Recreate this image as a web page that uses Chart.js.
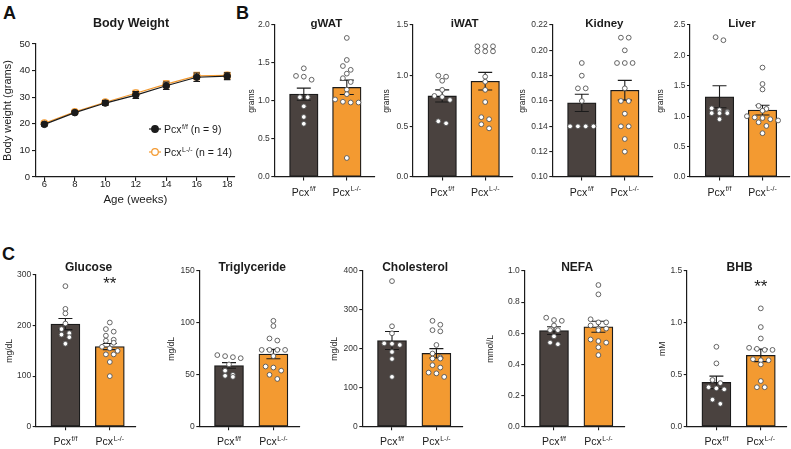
<!DOCTYPE html>
<html>
<head>
<meta charset="utf-8">
<script src="https://cdn.jsdelivr.net/npm/chart.js@4.4.1/dist/chart.umd.min.js"></script>
<style>
    body { margin: 0; background: #fff; }
    #page { position: relative; width: 791px; height: 449px; overflow: hidden; background: #fff; }
    #page canvas { position: absolute; }
    .letter { position: absolute; font: bold 18px/18px "Liberation Sans", Arial, sans-serif; color: #111; }
</style>
</head>
<body>
<div id="page">
    <div class="letter" style="left:3px;top:4px">A</div>
    <div class="letter" style="left:236px;top:4px">B</div>
    <div class="letter" style="left:2px;top:245px">C</div>
</div>
<script>
// ---- data ----
// A: body weight
const ageWeeks = [6, 8, 10, 12, 14, 16, 18]
const weightFlox = [19.8, 24.2, 27.8, 30.8, 34.3, 37.5, 37.9]
const weightFloxSem = [0.6, 0.6, 0.9, 1.3, 1.4, 1.6, 1.3]
const weightKo = [20.2, 24.5, 28.1, 31.5, 34.9, 38.0, 38.2]
const weightKoSem = [0.5, 0.6, 0.8, 1.1, 1.3, 1.4, 1.2]
const weightTicksX = [6, 8, 10, 12, 14, 16, 18]
const weightTicksY = [0, 10, 20, 30, 40, 50]

const genotypeBase = "Pcx"
const genotypeSup = ["f/f", "L-/-"]
const groupSizes = [9, 14]

// B: tissue weights (grams)
const gwatFlox = [1.43, 1.33, 1.32, 1.28, 1.05, 1.05, 0.93, 0.79, 0.70]
const gwatKo = [1.83, 1.54, 1.46, 1.41, 1.36, 1.30, 1.25, 1.15, 1.09, 1.02, 0.99, 0.98, 0.98, 0.25]
const gwatMean = [1.09, 1.18]
const gwatSem = [0.08, 0.095]
const gwatTicks = [0, 0.5, 1.0, 1.5, 2.0]

const iwatFlox = [1.00, 0.99, 0.95, 0.86, 0.80, 0.79, 0.76, 0.55, 0.53]
const iwatKo = [1.29, 1.29, 1.29, 1.24, 1.24, 1.24, 0.99, 0.94, 0.86, 0.74, 0.59, 0.57, 0.52, 0.48]
const iwatMean = [0.80, 0.945]
const iwatSem = [0.06, 0.087]
const iwatTicks = [0, 0.5, 1.0, 1.5]

const kidneyFlox = [0.19, 0.18, 0.17, 0.17, 0.16, 0.14, 0.14, 0.14, 0.14]
const kidneyKo = [0.21, 0.21, 0.20, 0.19, 0.19, 0.19, 0.17, 0.16, 0.16, 0.15, 0.14, 0.14, 0.13, 0.12]
const kidneyMean = [0.1585, 0.1685]
const kidneySem = [0.0068, 0.0078]
const kidneyTicks = [0.10, 0.12, 0.14, 0.16, 0.18, 0.20, 0.22]

const liverFlox = [2.30, 2.25, 1.13, 1.10, 1.07, 1.05, 1.05, 1.05, 0.95]
const liverKo = [1.80, 1.53, 1.44, 1.17, 1.12, 1.09, 1.00, 0.98, 0.97, 0.95, 0.93, 0.90, 0.84, 0.72]
const liverMean = [1.32, 1.10]
const liverSem = [0.18, 0.08]
const liverTicks = [0, 0.5, 1.0, 1.5, 2.0, 2.5]

// C: plasma metabolites
const glucoseFlox = [278, 233, 224, 204, 193, 185, 182, 177, 164]
const glucoseKo = [206, 193, 188, 180, 172, 170, 166, 158, 155, 150, 143, 143, 128, 100]
const glucoseMean = [203, 158.5]
const glucoseSem = [11, 6]
const glucoseTicks = [0, 100, 200, 300]

const tgFlox = [69, 68, 67, 66, 60, 54, 50, 49, 48]
const tgKo = [102, 97, 85, 83, 74, 74, 74, 74, 68, 58, 57, 54, 50, 46]
const tgMean = [59, 70]
const tgSem = [2.7, 4.5]
const tgTicks = [0, 50, 100, 150]

const cholFlox = [374, 258, 240, 214, 213, 210, 192, 174, 128]
const cholKo = [272, 262, 248, 245, 210, 188, 178, 175, 175, 158, 152, 139, 137, 128]
const cholMean = [221.5, 188.5]
const cholSem = [23, 12]
const cholTicks = [0, 100, 200, 300, 400]

const nefaFlox = [0.70, 0.685, 0.68, 0.65, 0.62, 0.62, 0.58, 0.54, 0.53]
const nefaKo = [0.91, 0.85, 0.69, 0.67, 0.67, 0.65, 0.63, 0.63, 0.62, 0.56, 0.55, 0.54, 0.51, 0.46]
const nefaMean = [0.617, 0.642]
const nefaSem = [0.025, 0.035]
const nefaTicks = [0, 0.2, 0.4, 0.6, 0.8, 1.0]

const bhbFlox = [0.77, 0.61, 0.45, 0.42, 0.38, 0.37, 0.36, 0.26, 0.22]
const bhbKo = [1.14, 0.96, 0.85, 0.76, 0.75, 0.74, 0.74, 0.65, 0.64, 0.64, 0.60, 0.44, 0.38, 0.38]
const bhbMean = [0.427, 0.687]
const bhbSem = [0.06, 0.06]
const bhbTicks = [0, 0.5, 1.0, 1.5]

// ---- styles ----
const FONT = '"Liberation Sans", Arial, Helvetica, sans-serif'
const INK = "#1b1b1b"
const DARK = "#4a423f"
const ORANGE = "#f39a31"

function addCanvas(left, top, width, height) {
    const c = document.createElement("canvas")
    c.width = width
    c.height = height
    c.style.left = left + "px"
    c.style.top = top + "px"
    document.getElementById("page").appendChild(c)
    return c
}

// "Pcx" with a superscript genotype
function drawGenotype(ctx, x, y, sup, size, align, tail) {
    const supSize = size * 0.66
    ctx.font = `${size}px ${FONT}`
    const wBase = ctx.measureText(genotypeBase).width
    const wTail = tail ? ctx.measureText(tail).width : 0
    ctx.font = `${supSize}px ${FONT}`
    const wSup = ctx.measureText(sup).width
    const x0 = align === "center" ? x - (wBase + 0.6 + wSup + wTail) / 2 : x
    ctx.textAlign = "left"
    ctx.textBaseline = "alphabetic"
    ctx.font = `${size}px ${FONT}`
    ctx.fillText(genotypeBase, x0, y)
    ctx.font = `${supSize}px ${FONT}`
    ctx.fillText(sup, x0 + wBase + 0.6, y - size * 0.4)
    if (tail) {
        ctx.font = `${size}px ${FONT}`
        ctx.fillText(tail, x0 + wBase + 0.6 + wSup, y)
    }
}

// spread points that sit at about the same height into a centred row
function swarm(values, pxPerUnit, rowPx) {
    const order = values.map((v, i) => i).sort((a, b) => values[b] - values[a])
    const offs = new Array(values.length).fill(0)
    let row = []
    const flush = () => {
        row.forEach((idx, k) => (offs[idx] = k - (row.length - 1) / 2))
        row = []
    }
    order.forEach((i) => {
        if (row.length && (values[row[0]] - values[i]) * pxPerUnit > rowPx) flush()
        row.push(i)
    })
    flush()
    return offs
}

function axisStyle(tickLength) {
    return {
        grid: { display: true, drawOnChartArea: false, drawTicks: true, tickLength: tickLength, color: INK, lineWidth: 1.1, offset: false },
        border: { display: true, color: INK, width: 1.2 },
    }
}

// ---- A: body weight over time ----
function bodyWeightPanel() {
    const canvas = addCanvas(0, 0, 240, 215)
    const area = { left: 36, top: 44, right: 236, bottom: 177 }
    const semSets = [weightFloxSem, weightKoSem]
    new Chart(canvas, {
        type: "line",
        data: {
            datasets: [
                {
                    data: ageWeeks.map((a, i) => ({ x: a, y: weightFlox[i] })),
                    borderColor: INK,
                    borderWidth: 1.2,
                    pointRadius: 3.3,
                    pointBackgroundColor: INK,
                    pointBorderColor: INK,
                    pointBorderWidth: 1,
                },
                {
                    data: ageWeeks.map((a, i) => ({ x: a, y: weightKo[i] })),
                    borderColor: ORANGE,
                    borderWidth: 1.2,
                    pointRadius: 3.3,
                    pointBackgroundColor: "#fff",
                    pointBorderColor: ORANGE,
                    pointBorderWidth: 1.2,
                },
            ],
        },
        options: {
            responsive: false,
            animation: false,
            events: [],
            layout: { padding: { top: area.top, right: 240 - area.right, left: 0, bottom: 0 } },
            scales: {
                x: {
                    type: "linear",
                    min: 5.45,
                    max: 18.5,
                    ...axisStyle(4),
                    afterBuildTicks: (s) => { s.ticks = weightTicksX.map((v) => ({ value: v })) },
                    ticks: { color: INK, font: { family: FONT, size: 9.5 }, padding: -2 },
                    afterFit: (s) => { s.height = 215 - area.bottom },
                },
                y: {
                    min: 0,
                    max: 50,
                    ...axisStyle(4),
                    afterBuildTicks: (s) => { s.ticks = weightTicksY.map((v) => ({ value: v })) },
                    ticks: { color: INK, font: { family: FONT, size: 9.5 }, padding: 2 },
                    afterFit: (s) => { s.width = area.left },
                },
            },
            plugins: { legend: { display: false }, tooltip: { enabled: false } },
        },
        plugins: [
            {
                id: "weightErrors",
                beforeDatasetDraw(chart, args) {
                    const { ctx } = chart
                    const y = chart.scales.y
                    const sem = semSets[args.index]
                    ctx.save()
                    ctx.strokeStyle = args.index === 0 ? INK : ORANGE
                    ctx.lineWidth = 1.1
                    args.meta.data.forEach((pt, i) => {
                        const v = chart.data.datasets[args.index].data[i].y
                        const hi = y.getPixelForValue(v + sem[i])
                        const lo = y.getPixelForValue(v - sem[i])
                        ctx.beginPath()
                        ctx.moveTo(pt.x, hi); ctx.lineTo(pt.x, lo)
                        ctx.moveTo(pt.x - 3.3, hi); ctx.lineTo(pt.x + 3.3, hi)
                        ctx.moveTo(pt.x - 3.3, lo); ctx.lineTo(pt.x + 3.3, lo)
                        ctx.stroke()
                    })
                    ctx.restore()
                },
            },
            {
                id: "weightText",
                afterDraw(chart) {
                    const { ctx, chartArea } = chart
                    ctx.save()
                    ctx.fillStyle = INK
                    ctx.textAlign = "center"
                    ctx.textBaseline = "middle"
                    ctx.font = `bold 12.5px ${FONT}`
                    ctx.fillText("Body Weight", chartArea.left + 95, chartArea.top - 20)
                    ctx.font = `11.5px ${FONT}`
                    ctx.fillText("Age (weeks)", (chartArea.left + chartArea.right) / 2, chartArea.bottom + 23)
                    ctx.save()
                    ctx.translate(8, (chartArea.top + chartArea.bottom) / 2)
                    ctx.rotate(-Math.PI / 2)
                    ctx.font = `11px ${FONT}`
                    ctx.fillText("Body weight (grams)", 0, 0)
                    ctx.restore()
                    // legend
                    const colors = [INK, ORANGE]
                    ;[0, 1].forEach((i) => {
                        const cy = chartArea.top + 85 + i * 23
                        const cx = chartArea.left + 119
                        ctx.strokeStyle = colors[i]
                        ctx.lineWidth = 1.2
                        ctx.beginPath()
                        ctx.moveTo(cx - 6, cy); ctx.lineTo(cx + 6, cy)
                        ctx.stroke()
                        ctx.beginPath()
                        ctx.arc(cx, cy, 3.3, 0, Math.PI * 2)
                        ctx.fillStyle = i === 0 ? INK : "#fff"
                        ctx.fill()
                        ctx.stroke()
                        ctx.fillStyle = INK
                        drawGenotype(ctx, cx + 9, cy + 3.8, genotypeSup[i], 10.5, "left", ` (n = ${groupSizes[i]})`)
                    })
                    ctx.restore()
                },
            },
        ],
    })
}

// ---- B / C: bar + dot panels ----
function barPanel(p) {
    const g = p.geom
    const left = Math.round(p.x0) - 52
    const top = Math.round(p.yTop) - 24
    const width = 52 + g.axisLen + 10
    const height = Math.min(Math.round(p.yBottom) + 24, 449) - top
    const canvas = addCanvas(left, top, width, height)

    const yMin = p.ticks[0]
    const yMax = p.ticks[p.ticks.length - 1]
    const pxPerUnit = (p.yBottom - p.yTop) / (yMax - yMin)
    const xMin = -g.barOffset / g.spacing
    const xMax = (g.axisLen - g.barOffset) / g.spacing
    const dotStep = 7.8 / g.spacing

    const points = []
    ;[p.flox, p.ko].forEach((vals, gi) => {
        const offs = swarm(vals, pxPerUnit, 4.5)
        vals.forEach((v, i) => points.push({ x: gi + offs[i] * dotStep, y: v }))
    })

    new Chart(canvas, {
        type: "bar",
        data: {
            datasets: [
                {
                    type: "bar",
                    data: p.mean.map((m, i) => ({ x: i, y: m })),
                    backgroundColor: [DARK, ORANGE],
                    borderColor: INK,
                    borderWidth: 1.3,
                    borderSkipped: false,
                    barThickness: g.barW,
                    base: yMin,
                    order: 1,
                },
                {
                    type: "scatter",
                    data: points,
                    pointRadius: 2.4,
                    pointBackgroundColor: "#fff",
                    pointBorderColor: "#555",
                    pointBorderWidth: 0.9,
                    order: 0,
                },
            ],
        },
        options: {
            responsive: false,
            animation: false,
            events: [],
            layout: { padding: { top: p.yTop - top, right: left + width - (p.x0 + g.axisLen), left: 0, bottom: 0 } },
            scales: {
                x: {
                    type: "linear",
                    min: xMin,
                    max: xMax,
                    offset: false,
                    ...axisStyle(3.5),
                    afterBuildTicks: (s) => { s.ticks = [{ value: 0 }, { value: 1 }] },
                    ticks: { display: false },
                    afterFit: (s) => { s.height = top + height - p.yBottom },
                },
                y: {
                    type: "linear",
                    min: yMin,
                    max: yMax,
                    beginAtZero: false,
                    ...axisStyle(3),
                    afterBuildTicks: (s) => { s.ticks = p.ticks.map((v) => ({ value: v })) },
                    ticks: {
                        color: "#333",
                        font: { family: FONT, size: 8.5 },
                        padding: 1.5,
                        callback: (v) => v.toFixed(p.decimals),
                    },
                    afterFit: (s) => { s.width = p.x0 - left },
                },
            },
            plugins: { legend: { display: false }, tooltip: { enabled: false } },
        },
        plugins: [
            {
                id: "semBars",
                afterDatasetDraw(chart, args) {
                    if (args.meta.type !== "bar") return
                    const { ctx } = chart
                    const y = chart.scales.y
                    ctx.save()
                    ctx.strokeStyle = INK
                    ctx.lineWidth = 1.1
                    args.meta.data.forEach((bar, i) => {
                        const hi = y.getPixelForValue(p.mean[i] + p.sem[i])
                        const lo = y.getPixelForValue(p.mean[i] - p.sem[i])
                        ctx.beginPath()
                        ctx.moveTo(bar.x, hi); ctx.lineTo(bar.x, lo)
                        ctx.moveTo(bar.x - 7, hi); ctx.lineTo(bar.x + 7, hi)
                        ctx.moveTo(bar.x - 7, lo); ctx.lineTo(bar.x + 7, lo)
                        ctx.stroke()
                    })
                    ctx.restore()
                },
            },
            {
                id: "panelText",
                afterDraw(chart) {
                    const { ctx, chartArea } = chart
                    const x = chart.scales.x
                    const c0 = x.getPixelForValue(0)
                    const c1 = x.getPixelForValue(1)
                    ctx.save()
                    ctx.fillStyle = INK
                    ctx.textAlign = "center"
                    ctx.textBaseline = "middle"
                    ctx.font = `bold ${p.titleSize}px ${FONT}`
                    ctx.fillText(p.title, (c0 + c1) / 2 + 1, p.titleY - top)
                    if (p.stars) {
                        ctx.font = `17px ${FONT}`
                        ctx.textBaseline = "alphabetic"
                        ctx.fillText(p.stars, c1, chartArea.top + p.starsDy)
                    }
                    ;[c0, c1].forEach((cx, i) => drawGenotype(ctx, cx, chartArea.bottom + 18.5, genotypeSup[i], 10.5, "center"))
                    ctx.save()
                    ctx.translate(chartArea.left - p.unitDx, (chartArea.top + chartArea.bottom) / 2)
                    ctx.rotate(-Math.PI / 2)
                    ctx.font = `8.5px ${FONT}`
                    ctx.textAlign = "center"
                    ctx.textBaseline = "middle"
                    ctx.fillText(p.unit, 0, 0)
                    ctx.restore()
                    ctx.restore()
                },
            },
        ],
    })
}

function main() {
    bodyWeightPanel()

    const geomB = { barOffset: 29.5, spacing: 43, axisLen: 100, barW: 28.5 }
    const geomC = { barOffset: 29.7, spacing: 44.4, axisLen: 100, barW: 29 }

    const tissuePanels = [
        { title: "gWAT", flox: gwatFlox, ko: gwatKo, mean: gwatMean, sem: gwatSem, ticks: gwatTicks, decimals: 1, x0: 274.3, unitDx: 23 },
        { title: "iWAT", flox: iwatFlox, ko: iwatKo, mean: iwatMean, sem: iwatSem, ticks: iwatTicks, decimals: 1, x0: 412.7, unitDx: 26 },
        { title: "Kidney", flox: kidneyFlox, ko: kidneyKo, mean: kidneyMean, sem: kidneySem, ticks: kidneyTicks, decimals: 2, x0: 552.3, unitDx: 30 },
        { title: "Liver", flox: liverFlox, ko: liverKo, mean: liverMean, sem: liverSem, ticks: liverTicks, decimals: 1, x0: 690, unitDx: 29 },
    ]
    tissuePanels.forEach((p) =>
        barPanel({ ...p, unit: "grams", yTop: 25, yBottom: 177, titleY: 24, titleSize: 11.5, geom: geomB })
    )

    const plasmaPanels = [
        { title: "Glucose", unit: "mg/dL", flox: glucoseFlox, ko: glucoseKo, mean: glucoseMean, sem: glucoseSem, ticks: glucoseTicks, decimals: 0, x0: 35.7, yTop: 275, unitDx: 26, stars: "**", starsDy: 14 },
        { title: "Triglyceride", unit: "mg/dL", flox: tgFlox, ko: tgKo, mean: tgMean, sem: tgSem, ticks: tgTicks, decimals: 0, x0: 199.3, yTop: 271, unitDx: 27.5 },
        { title: "Cholesterol", unit: "mg/dL", flox: cholFlox, ko: cholKo, mean: cholMean, sem: cholSem, ticks: cholTicks, decimals: 0, x0: 362.3, yTop: 271, unitDx: 27.5 },
        { title: "NEFA", unit: "mmol/L", flox: nefaFlox, ko: nefaKo, mean: nefaMean, sem: nefaSem, ticks: nefaTicks, decimals: 1, x0: 524.3, yTop: 271, unitDx: 33.5 },
        { title: "BHB", unit: "mM", flox: bhbFlox, ko: bhbKo, mean: bhbMean, sem: bhbSem, ticks: bhbTicks, decimals: 1, x0: 686.7, yTop: 271, unitDx: 24.5, stars: "**", starsDy: 21 },
    ]
    plasmaPanels.forEach((p) =>
        barPanel({ ...p, yBottom: 426.7, titleY: 267.7, titleSize: 12, geom: geomC })
    )
}

document.addEventListener("DOMContentLoaded", main)
</script>
</body>
</html>
